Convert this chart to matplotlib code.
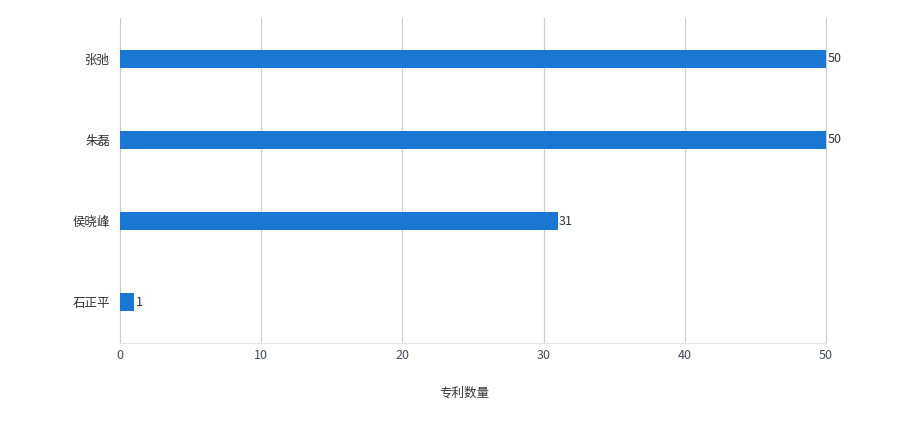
import matplotlib
matplotlib.use("Agg")
import matplotlib.pyplot as plt

plt.rcParams['font.family'] = ['Noto Sans CJK SC', 'DejaVu Sans']

names = ["张弛", "朱磊", "侯晓峰", "石正平"]
values = [50, 50, 31, 1]
xticks = [0, 10, 20, 30, 40, 50]
xlabel = "专利数量"

fig = plt.figure(figsize=(9.19, 4.30), dpi=100)
ax = fig.add_axes([120/919, 1-343/430, (826-120)/919, (343-18)/430])

ypos = list(range(len(names)))
ax.barh(ypos, values, height=0.22, color="#1976D2", zorder=3)
for y, v in zip(ypos, values):
    ax.text(v + 0.1, y, str(v), va="center", ha="left", fontsize=9, color="#333333")

ax.set_ylim(len(names) - 0.5, -0.5)
ax.set_yticks(ypos)
ax.set_yticklabels(names, fontsize=9, color="#333333")
ax.set_xlim(0, 50)
ax.set_xticks(xticks)
ax.set_xticklabels([str(t) for t in xticks], fontsize=9, color="#444e5a")
ax.tick_params(axis="both", length=0, pad=7)
ax.tick_params(axis="x", pad=4)
for t in xticks[1:]:
    ax.axvline(t, color="#d0d0d0", linewidth=0.9, zorder=0, clip_on=False)
for s in ["top", "right"]:
    ax.spines[s].set_visible(False)
ax.spines["left"].set_color("#c8c8c8")
ax.spines["bottom"].set_color("#e6e6e6")
fig.text(464/919, 1-393/430, xlabel, fontsize=9, color="#333333", ha="center", va="center")

fig.savefig("out.png", dpi=100, facecolor="white")
